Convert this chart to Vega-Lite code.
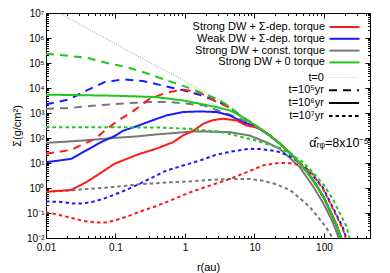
{
  "$schema": "https://vega.github.io/schema/vega-lite/v6.json",
  "width": 324,
  "height": 225,
  "autosize": {"type": "none"},
  "padding": {"left": 46, "top": 13, "right": 20, "bottom": 35},
  "config": {
    "font": "Liberation Sans",
    "view": {"stroke": "black", "strokeWidth": 1},
    "axis": {
      "domain": false, "grid": false,
      "labelFont": "Liberation Sans", "labelFontSize": 10, "labelColor": "black",
      "titleFont": "Liberation Sans", "titleFontSize": 11, "titleFontWeight": "normal", "titleColor": "black",
      "tickColor": "black", "tickWidth": 1, "labelOverlap": false, "labelFlush": false, "labelBound": false, "labelPadding": 7
    },
    "legend": {
      "orient": "none", "padding": 0, "rowPadding": 0.8,
      "labelFont": "Liberation Sans", "labelFontSize": 11, "labelColor": "black",
      "labelAlign": "right", "labelOffset": -25.5, "labelLimit": 300,
      "symbolType": "M-3,0H3", "symbolSize": 100, "symbolStrokeWidth": 2,
      "symbolBaseStrokeColor": "black"
    }
  },
  "datasets": {
    "series": [
      {"id": "t0", "m": "initial", "t": "t=0"},
      {"id": "g7", "m": "Strong DW + const. torque", "t": "t=10⁷yr"},
      {"id": "g5", "m": "Strong DW + const. torque", "t": "t=10⁵yr"},
      {"id": "g6", "m": "Strong DW + const. torque", "t": "t=10⁶yr"},
      {"id": "b7", "m": "Weak DW + Σ-dep. torque", "t": "t=10⁷yr"},
      {"id": "b5", "m": "Weak DW + Σ-dep. torque", "t": "t=10⁵yr"},
      {"id": "b6", "m": "Weak DW + Σ-dep. torque", "t": "t=10⁶yr"},
      {"id": "r7", "m": "Strong DW + Σ-dep. torque", "t": "t=10⁷yr"},
      {"id": "r5", "m": "Strong DW + Σ-dep. torque", "t": "t=10⁵yr"},
      {"id": "r6", "m": "Strong DW + Σ-dep. torque", "t": "t=10⁶yr"},
      {"id": "n7", "m": "Strong DW + 0 torque", "t": "t=10⁷yr"},
      {"id": "n5", "m": "Strong DW + 0 torque", "t": "t=10⁵yr"},
      {"id": "n6", "m": "Strong DW + 0 torque", "t": "t=10⁶yr"}
    ],
    "note": [{"txt": "α̂ᵣᵩ=8x10⁻⁵"}],
    "pts": [
      {"id":"t0","r":0.0154,"s":1e7},{"id":"t0","r":0.05,"s":1.7e6},{"id":"t0","r":0.16,"s":2.8e5},{"id":"t0","r":0.7,"s":3.2e4},{"id":"t0","r":3.16,"s":3300},{"id":"t0","r":4.41,"s":2000},{"id":"t0","r":6.13,"s":815},{"id":"t0","r":9.5,"s":378},{"id":"t0","r":16.5,"s":128},{"id":"t0","r":23.1,"s":61},{"id":"t0","r":32,"s":26.5},{"id":"t0","r":44.6,"s":10.2},{"id":"t0","r":60,"s":3.8},{"id":"t0","r":77.5,"s":1.33},{"id":"t0","r":100,"s":0.41},{"id":"t0","r":130,"s":0.088},{"id":"t0","r":150,"s":0.036},{"id":"t0","r":177,"s":0.0103},{"id":"t0","r":195,"s":0.004},

      {"id":"g7","r":0.01,"s":0.71},{"id":"g7","r":0.0194,"s":0.78},{"id":"g7","r":0.0376,"s":0.91},{"id":"g7","r":0.0654,"s":1.0},{"id":"g7","r":0.113,"s":1.16},{"id":"g7","r":0.197,"s":1.36},{"id":"g7","r":0.341,"s":1.53},{"id":"g7","r":0.605,"s":1.68},{"id":"g7","r":1.17,"s":1.84},{"id":"g7","r":2.26,"s":2.1},{"id":"g7","r":4.41,"s":2.3},{"id":"g7","r":8.5,"s":2.3},{"id":"g7","r":13.2,"s":1.96},{"id":"g7","r":20.6,"s":1.4},{"id":"g7","r":32,"s":0.85},{"id":"g7","r":44.6,"s":0.4},{"id":"g7","r":63,"s":0.17},{"id":"g7","r":82,"s":0.07},{"id":"g7","r":108,"s":0.026},{"id":"g7","r":135,"s":0.0095},{"id":"g7","r":145,"s":0.005},

      {"id":"g5","r":0.01,"s":1490},{"id":"g5","r":0.0216,"s":1570},{"id":"g5","r":0.0419,"s":1890},{"id":"g5","r":0.0811,"s":2210},{"id":"g5","r":0.157,"s":2500},{"id":"g5","r":0.312,"s":2740},{"id":"g5","r":0.605,"s":2740},{"id":"g5","r":1.86,"s":2020},{"id":"g5","r":6.13,"s":607},{"id":"g5","r":9.5,"s":330},{"id":"g5","r":12.5,"s":225},{"id":"g5","r":16.5,"s":127},{"id":"g5","r":23.1,"s":60.5},{"id":"g5","r":32,"s":26.2},{"id":"g5","r":44.6,"s":10.1},{"id":"g5","r":60,"s":3.75},{"id":"g5","r":77.5,"s":1.32},{"id":"g5","r":100,"s":0.41},{"id":"g5","r":130,"s":0.087},{"id":"g5","r":150,"s":0.036},{"id":"g5","r":177,"s":0.0102},{"id":"g5","r":195,"s":0.004},

      {"id":"g6","r":0.01,"s":64},{"id":"g6","r":0.0242,"s":74},{"id":"g6","r":0.0523,"s":87},{"id":"g6","r":0.101,"s":102},{"id":"g6","r":0.197,"s":115},{"id":"g6","r":0.38,"s":138},{"id":"g6","r":1.3,"s":182},{"id":"g6","r":2.0,"s":182},{"id":"g6","r":4.41,"s":171},{"id":"g6","r":8.5,"s":126},{"id":"g6","r":14.8,"s":68},{"id":"g6","r":23.1,"s":36.8},{"id":"g6","r":44.6,"s":7},{"id":"g6","r":69.3,"s":1.2},{"id":"g6","r":96,"s":0.27},{"id":"g6","r":130,"s":0.052},{"id":"g6","r":165,"s":0.0095},{"id":"g6","r":175,"s":0.005},

      {"id":"b7","r":0.01,"s":0.29},{"id":"b7","r":0.0155,"s":0.28},{"id":"b7","r":0.0242,"s":0.24},{"id":"b7","r":0.0336,"s":0.24},{"id":"b7","r":0.0469,"s":0.28},{"id":"b7","r":0.0654,"s":0.36},{"id":"b7","r":0.101,"s":0.57},{"id":"b7","r":0.141,"s":0.83},{"id":"b7","r":0.219,"s":1.45},{"id":"b7","r":0.341,"s":2.67},{"id":"b7","r":0.541,"s":4.95},{"id":"b7","r":0.933,"s":7.9},{"id":"b7","r":1.63,"s":12.5},{"id":"b7","r":2.84,"s":21.7},{"id":"b7","r":4.9,"s":29.5},{"id":"b7","r":8.5,"s":36.8},{"id":"b7","r":11.9,"s":36.5},{"id":"b7","r":20.6,"s":30},{"id":"b7","r":32,"s":19},{"id":"b7","r":44.6,"s":10.5},{"id":"b7","r":55.7,"s":6},{"id":"b7","r":65.6,"s":3.7},{"id":"b7","r":96.3,"s":1.06},{"id":"b7","r":120,"s":0.31},{"id":"b7","r":150,"s":0.09},{"id":"b7","r":187,"s":0.026},{"id":"b7","r":209,"s":0.0104},{"id":"b7","r":220,"s":0.005},

      {"id":"b5","r":0.01,"s":2210},{"id":"b5","r":0.0214,"s":3500},{"id":"b5","r":0.0388,"s":8100},{"id":"b5","r":0.0689,"s":16900},{"id":"b5","r":0.128,"s":22300},{"id":"b5","r":0.248,"s":19100},{"id":"b5","r":0.459,"s":12800},{"id":"b5","r":0.94,"s":8100},{"id":"b5","r":1.63,"s":5300},{"id":"b5","r":2.96,"s":2900},{"id":"b5","r":4.41,"s":1690},{"id":"b5","r":6.13,"s":808},{"id":"b5","r":9.5,"s":374},{"id":"b5","r":16.5,"s":127},{"id":"b5","r":23.1,"s":60.5},{"id":"b5","r":32,"s":26.2},{"id":"b5","r":44.6,"s":10.1},{"id":"b5","r":60,"s":3.75},{"id":"b5","r":77.5,"s":1.32},{"id":"b5","r":100,"s":0.41},{"id":"b5","r":130,"s":0.087},{"id":"b5","r":150,"s":0.036},{"id":"b5","r":177,"s":0.0102},{"id":"b5","r":195,"s":0.004},

      {"id":"b6","r":0.01,"s":10.7},{"id":"b6","r":0.0229,"s":14.6},{"id":"b6","r":0.0376,"s":31.5},{"id":"b6","r":0.0616,"s":67.8},{"id":"b6","r":0.101,"s":126},{"id":"b6","r":0.126,"s":191},{"id":"b6","r":0.197,"s":290},{"id":"b6","r":0.372,"s":553},{"id":"b6","r":0.541,"s":802},{"id":"b6","r":0.933,"s":1090},{"id":"b6","r":1.63,"s":1160},{"id":"b6","r":2.84,"s":1090},{"id":"b6","r":4.41,"s":802},{"id":"b6","r":6.8,"s":432},{"id":"b6","r":9.5,"s":315},{"id":"b6","r":11.5,"s":245},{"id":"b6","r":16.5,"s":126},{"id":"b6","r":23.1,"s":60},{"id":"b6","r":32,"s":26},{"id":"b6","r":44.6,"s":10},{"id":"b6","r":60,"s":3.7},{"id":"b6","r":77.5,"s":1.3},{"id":"b6","r":100,"s":0.4},{"id":"b6","r":130,"s":0.085},{"id":"b6","r":150,"s":0.035},{"id":"b6","r":177,"s":0.01},{"id":"b6","r":190,"s":0.005},

      {"id":"r7","r":0.01,"s":0.105},{"id":"r7","r":0.0139,"s":0.09},{"id":"r7","r":0.0242,"s":0.062},{"id":"r7","r":0.0336,"s":0.049},{"id":"r7","r":0.0523,"s":0.0415},{"id":"r7","r":0.0728,"s":0.0415},{"id":"r7","r":0.101,"s":0.052},{"id":"r7","r":0.157,"s":0.077},{"id":"r7","r":0.245,"s":0.123},{"id":"r7","r":0.36,"s":0.177},{"id":"r7","r":0.605,"s":0.309},{"id":"r7","r":1.17,"s":0.665},{"id":"r7","r":2.26,"s":1.24},{"id":"r7","r":4.41,"s":2.3},{"id":"r7","r":7.65,"s":4.23},{"id":"r7","r":13.2,"s":7.9},{"id":"r7","r":20.6,"s":9.8},{"id":"r7","r":30,"s":10},{"id":"r7","r":40,"s":9},{"id":"r7","r":52.4,"s":6.7},{"id":"r7","r":69.4,"s":3.6},{"id":"r7","r":82,"s":1.7},{"id":"r7","r":96.3,"s":0.95},{"id":"r7","r":120,"s":0.28},{"id":"r7","r":150,"s":0.08},{"id":"r7","r":187,"s":0.023},{"id":"r7","r":205,"s":0.0104},{"id":"r7","r":215,"s":0.005},

      {"id":"r5","r":0.01,"s":23.2},{"id":"r5","r":0.0229,"s":33.6},{"id":"r5","r":0.0355,"s":58.5},{"id":"r5","r":0.0523,"s":95},{"id":"r5","r":0.0675,"s":180},{"id":"r5","r":0.107,"s":480},{"id":"r5","r":0.186,"s":1270},{"id":"r5","r":0.305,"s":3600},{"id":"r5","r":0.542,"s":6530},{"id":"r5","r":0.94,"s":8600},{"id":"r5","r":1.63,"s":6500},{"id":"r5","r":2.99,"s":2600},{"id":"r5","r":4.41,"s":1650},{"id":"r5","r":6.13,"s":805},{"id":"r5","r":9.5,"s":373},{"id":"r5","r":16.5,"s":127},{"id":"r5","r":23.1,"s":60.5},{"id":"r5","r":32,"s":26.2},{"id":"r5","r":44.6,"s":10.1},{"id":"r5","r":60,"s":3.75},{"id":"r5","r":77.5,"s":1.32},{"id":"r5","r":100,"s":0.41},{"id":"r5","r":130,"s":0.087},{"id":"r5","r":150,"s":0.036},{"id":"r5","r":177,"s":0.0102},{"id":"r5","r":195,"s":0.004},

      {"id":"r6","r":0.01,"s":0.71},{"id":"r6","r":0.0229,"s":0.83},{"id":"r6","r":0.0376,"s":1.68},{"id":"r6","r":0.0583,"s":3.65},{"id":"r6","r":0.0959,"s":9.2},{"id":"r6","r":0.208,"s":21.7},{"id":"r6","r":0.38,"s":36.8},{"id":"r6","r":0.674,"s":67.8},{"id":"r6","r":0.933,"s":126},{"id":"r6","r":1.3,"s":191},{"id":"r6","r":1.83,"s":372},{"id":"r6","r":2.54,"s":519},{"id":"r6","r":3.51,"s":590},{"id":"r6","r":5.53,"s":505},{"id":"r6","r":7.65,"s":318},{"id":"r6","r":10.5,"s":265},{"id":"r6","r":12.5,"s":220},{"id":"r6","r":16.5,"s":126},{"id":"r6","r":23.1,"s":60},{"id":"r6","r":32,"s":26},{"id":"r6","r":44.6,"s":10},{"id":"r6","r":60,"s":3.7},{"id":"r6","r":77.5,"s":1.3},{"id":"r6","r":100,"s":0.4},{"id":"r6","r":130,"s":0.085},{"id":"r6","r":150,"s":0.035},{"id":"r6","r":177,"s":0.01},{"id":"r6","r":190,"s":0.005},

      {"id":"n7","r":0.01,"s":272},{"id":"n7","r":0.38,"s":264},{"id":"n7","r":1.17,"s":234},{"id":"n7","r":3.49,"s":171},{"id":"n7","r":6.13,"s":115},{"id":"n7","r":10.6,"s":79},{"id":"n7","r":23,"s":40},{"id":"n7","r":35.7,"s":20},{"id":"n7","r":49.8,"s":10.7},{"id":"n7","r":69.4,"s":4.2},{"id":"n7","r":101,"s":1.24},{"id":"n7","r":134,"s":0.36},{"id":"n7","r":167,"s":0.105},{"id":"n7","r":209,"s":0.031},{"id":"n7","r":233,"s":0.0104},{"id":"n7","r":245,"s":0.005},

      {"id":"n5","r":0.01,"s":236000},{"id":"n5","r":0.0214,"s":193000},{"id":"n5","r":0.0415,"s":156000},{"id":"n5","r":0.0752,"s":100000},{"id":"n5","r":0.141,"s":69700},{"id":"n5","r":0.274,"s":40000},{"id":"n5","r":0.459,"s":23900},{"id":"n5","r":0.891,"s":12800},{"id":"n5","r":1.63,"s":6900},{"id":"n5","r":3.16,"s":3200},{"id":"n5","r":4.41,"s":1730},{"id":"n5","r":6.13,"s":810},{"id":"n5","r":9.5,"s":375},{"id":"n5","r":16.5,"s":127},{"id":"n5","r":23.1,"s":60.5},{"id":"n5","r":32,"s":26.2},{"id":"n5","r":44.6,"s":10.1},{"id":"n5","r":60,"s":3.75},{"id":"n5","r":77.5,"s":1.32},{"id":"n5","r":100,"s":0.41},{"id":"n5","r":130,"s":0.087},{"id":"n5","r":150,"s":0.036},{"id":"n5","r":177,"s":0.0102},{"id":"n5","r":195,"s":0.004},

      {"id":"n6","r":0.01,"s":5430},{"id":"n6","r":0.1,"s":4900},{"id":"n6","r":0.38,"s":4350},{"id":"n6","r":0.929,"s":3200},{"id":"n6","r":2.84,"s":1730},{"id":"n6","r":4.41,"s":1270},{"id":"n6","r":6.13,"s":802},{"id":"n6","r":9.5,"s":372},{"id":"n6","r":16.5,"s":126},{"id":"n6","r":23.1,"s":60},{"id":"n6","r":32,"s":26},{"id":"n6","r":44.6,"s":10},{"id":"n6","r":60,"s":3.7},{"id":"n6","r":77.5,"s":1.3},{"id":"n6","r":100,"s":0.4},{"id":"n6","r":130,"s":0.085},{"id":"n6","r":150,"s":0.035},{"id":"n6","r":177,"s":0.01},{"id":"n6","r":190,"s":0.005}
    ]
  },
  "layer": [
    {
      "data": {"name": "pts"},
      "transform": [{"filter": "datum.id === 't0'"}],
      "mark": {"type": "line", "clip": true, "stroke": "#3a8f3a", "strokeWidth": 0.7, "strokeDash": [1, 1.5]},
      "encoding": {
        "x": {"field": "r", "type": "quantitative",
          "scale": {"type": "log", "domain": [0.01, 460], "nice": false},
          "axis": {"orient": "top", "labels": false, "title": null,
            "values": [0.01,0.02,0.03,0.04,0.05,0.06,0.07,0.08,0.09,0.1,0.2,0.3,0.4,0.5,0.6,0.7,0.8,0.9,1,2,3,4,5,6,7,8,9,10,20,30,40,50,60,70,80,90,100,200,300,400],
            "tickSize": {"condition": {"test": "abs(log(datum.value)/LN10-round(log(datum.value)/LN10))<1e-6", "value": -5}, "value": -2.5}}},
        "y": {"field": "s", "type": "quantitative",
          "scale": {"type": "log", "domain": [0.01, 10000000], "nice": false},
          "axis": {"orient": "right", "labels": false, "title": null,
            "values": [0.01,0.02,0.03,0.04,0.05,0.06,0.07,0.08,0.09,0.1,0.2,0.3,0.4,0.5,0.6,0.7,0.8,0.9,1,2,3,4,5,6,7,8,9,10,20,30,40,50,60,70,80,90,100,200,300,400,500,600,700,800,900,1000,2000,3000,4000,5000,6000,7000,8000,9000,10000,20000,30000,40000,50000,60000,70000,80000,90000,100000,200000,300000,400000,500000,600000,700000,800000,900000,1000000,2000000,3000000,4000000,5000000,6000000,7000000,8000000,9000000,10000000],
            "tickSize": {"condition": {"test": "abs(log(datum.value)/LN10-round(log(datum.value)/LN10))<1e-6", "value": -5}, "value": -2.5}}}
      }
    },
    {
      "data": {"name": "pts"},
      "transform": [
        {"filter": "datum.id !== 't0'"},
        {"lookup": "id", "from": {"data": {"name": "series"}, "key": "id", "fields": ["m", "t"]}}
      ],
      "mark": {"type": "line", "clip": true, "strokeWidth": 2},
      "encoding": {
        "x": {"field": "r", "type": "quantitative",
          "scale": {"type": "log", "domain": [0.01, 460], "nice": false},
          "axis": {"orient": "bottom", "title": "r(au)", "labelPadding": 9,
            "values": [0.01,0.02,0.03,0.04,0.05,0.06,0.07,0.08,0.09,0.1,0.2,0.3,0.4,0.5,0.6,0.7,0.8,0.9,1,2,3,4,5,6,7,8,9,10,20,30,40,50,60,70,80,90,100,200,300,400],
            "labelExpr": "abs(log(datum.value)/LN10-round(log(datum.value)/LN10))<1e-6 ? format(datum.value, '~g') : ''",
            "tickSize": {"condition": {"test": "abs(log(datum.value)/LN10-round(log(datum.value)/LN10))<1e-6", "value": -5}, "value": -2.5},
            "titlePadding": 7}},
        "y": {"field": "s", "type": "quantitative",
          "scale": {"type": "log", "domain": [0.01, 10000000], "nice": false},
          "axis": {"orient": "left", "title": "Σ(g/cm²)",
            "values": [0.01,0.02,0.03,0.04,0.05,0.06,0.07,0.08,0.09,0.1,0.2,0.3,0.4,0.5,0.6,0.7,0.8,0.9,1,2,3,4,5,6,7,8,9,10,20,30,40,50,60,70,80,90,100,200,300,400,500,600,700,800,900,1000,2000,3000,4000,5000,6000,7000,8000,9000,10000,20000,30000,40000,50000,60000,70000,80000,90000,100000,200000,300000,400000,500000,600000,700000,800000,900000,1000000,2000000,3000000,4000000,5000000,6000000,7000000,8000000,9000000,10000000],
            "labelExpr": "abs(log(datum.value)/LN10-round(log(datum.value)/LN10))<1e-6 ? '10' + ['⁻²','⁻¹','⁰','¹','²','³','⁴','⁵','⁶','⁷'][round(log(datum.value)/LN10)+2] : ''",
            "tickSize": {"condition": {"test": "abs(log(datum.value)/LN10-round(log(datum.value)/LN10))<1e-6", "value": -5}, "value": -2.5},
            "titlePadding": 4}},
        "color": {"field": "m", "type": "nominal",
          "scale": {"domain": ["Strong DW + Σ-dep. torque", "Weak DW + Σ-dep. torque", "Strong DW + const. torque", "Strong DW + 0 torque"],
                    "range": ["#ff1a1a", "#1a1aff", "#777777", "#1ec81e"]},
          "legend": {"title": null, "legendX": 292.5, "legendY": 8}},
        "strokeDash": {"field": "t", "type": "nominal",
          "scale": {"domain": ["t=0", "t=10⁵yr", "t=10⁶yr", "t=10⁷yr"], "range": [[1, 1.5], [8, 6], [1, 0], [3.5, 3]]},
          "legend": {"title": null, "legendX": 292.5, "legendY": 59, "symbolStrokeColor": "black",
            "encode": {"symbols": {"update": {
              "stroke": {"signal": "datum.value === 't=0' ? '#c8c8c8' : 'black'"},
              "strokeWidth": {"signal": "datum.value === 't=0' ? 1 : 2"}}}}}}
      }
    },
    {
      "data": {"name": "note"},
      "mark": {"type": "text", "align": "right", "baseline": "middle", "fontSize": 12.5, "font": "Liberation Sans", "color": "black"},
      "encoding": {
        "x": {"datum": 440, "type": "quantitative", "scale": {"type": "log", "domain": [0.01, 460], "nice": false}, "axis": null},
        "y": {"datum": 64, "type": "quantitative", "scale": {"type": "log", "domain": [0.01, 10000000], "nice": false}, "axis": null},
        "text": {"field": "txt"}
      }
    }
  ],
  "resolve": {"axis": {"x": "independent", "y": "independent"}}
}
